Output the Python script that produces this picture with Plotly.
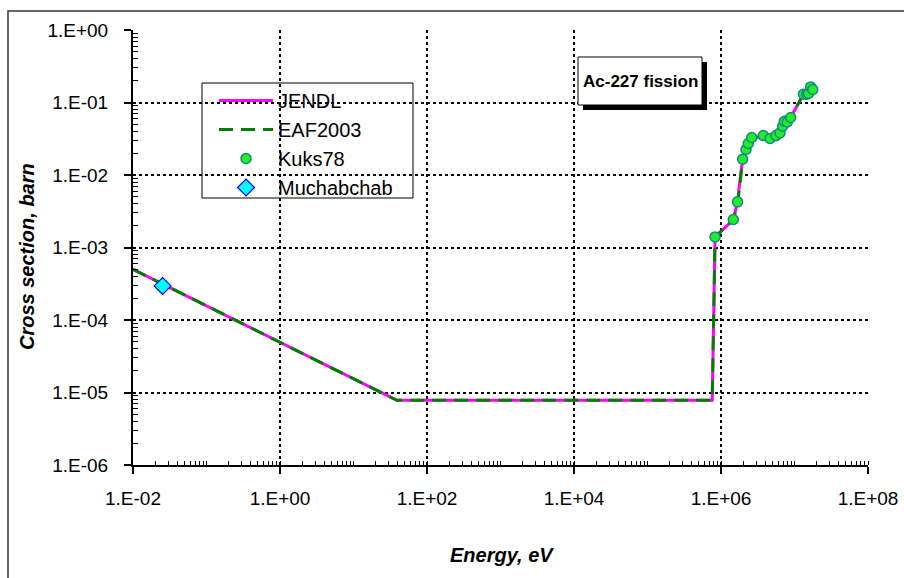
import plotly.graph_objects as go

# ---------------- data ----------------
jendl_E = [1e-2, 39, 7.6e5, 8.3e5, 1.47e6, 1.68e6, 1.85e6, 1.97e6, 2.19e6, 2.35e6, 2.62e6,
           3.77e6, 4.65e6, 5.6e6, 6.35e6, 6.9e6, 7.26e6, 7.98e6, 8.87e6, 1.32e7, 1.55e7, 2e7]
jendl_s = [5.0e-4, 7.8e-6, 7.8e-6, 1.4e-3, 2.4e-3, 4.3e-3, 1.0e-2, 1.6e-2, 2.2e-2, 2.7e-2, 3.2e-2,
           3.45e-2, 3.2e-2, 3.5e-2, 3.8e-2, 4.6e-2, 5.4e-2, 5.5e-2, 6.2e-2, 1.3e-1, 1.35e-1, 1.4e-1]

eaf_E = [1e-2, 39, 7.6e5, 8.3e5, 1.47e6, 1.68e6, 1.97e6, 2.19e6, 2.35e6, 2.62e6,
         3.77e6, 4.65e6, 5.6e6, 6.35e6, 6.9e6, 7.26e6, 7.98e6, 8.87e6, 1.32e7, 1.55e7, 2e7]
eaf_s = [5.0e-4, 7.8e-6, 7.8e-6, 1.4e-3, 2.4e-3, 4.0e-3, 1.6e-2, 2.2e-2, 2.7e-2, 3.2e-2,
         3.45e-2, 3.2e-2, 3.5e-2, 3.8e-2, 4.6e-2, 5.4e-2, 5.5e-2, 6.2e-2, 1.3e-1, 1.35e-1, 1.4e-1]

kuks_E = [8.3e5, 1.47e6, 1.68e6, 1.97e6, 2.19e6, 2.35e6, 2.62e6, 3.77e6, 4.65e6, 5.6e6,
          6.35e6, 6.9e6, 7.26e6, 7.98e6, 8.87e6, 1.32e7, 1.47e7, 1.55e7, 1.66e7, 1.77e7]
kuks_s = [1.4e-3, 2.43e-3, 4.26e-3, 1.65e-2, 2.25e-2, 2.72e-2, 3.29e-2, 3.5e-2, 3.19e-2, 3.5e-2,
          3.81e-2, 4.71e-2, 5.52e-2, 5.4e-2, 6.21e-2, 1.3e-1, 1.3e-1, 1.33e-1, 1.64e-1, 1.51e-1]

much_E = [0.0253]
much_s = [2.95e-4]

x_tickvals = [1e-2, 1e0, 1e2, 1e4, 1e6, 1e8]
x_ticktext = ["1.E-02", "1.E+00", "1.E+02", "1.E+04", "1.E+06", "1.E+08"]
y_tickvals = [1e-6, 1e-5, 1e-4, 1e-3, 1e-2, 1e-1, 1e0]
y_ticktext = ["1.E-06", "1.E-05", "1.E-04", "1.E-03", "1.E-02", "1.E-01", "1.E+00"]

x_minor = [m * 10 ** d for d in range(-2, 8) for m in range(2, 11)]
y_minor = [m * 10 ** d for d in range(-6, 0) for m in range(2, 10)]

# ---------------- layout geometry ----------------
W, H = 904, 578
L, R, T, B = 133, 868, 30, 465
FONT = "Liberation Sans, Arial, sans-serif"


def px(x):
    return (x - L) / (R - L)


def py(y):
    return (B - y) / (B - T)


fig = go.Figure()
fig.add_trace(go.Scatter(x=jendl_E, y=jendl_s, mode="lines", name="JENDL",
                         line=dict(color="#ff00ff", width=3), legendgroup="a"))
fig.add_trace(go.Scatter(x=eaf_E, y=eaf_s, mode="lines", name="EAF2003",
                         line=dict(color="#008000", width=3, dash="14px,8px"), legendgroup="b"))
fig.add_trace(go.Scatter(x=kuks_E, y=kuks_s, mode="markers", name="Kuks78",
                         marker=dict(color="#22ee22", size=10, line=dict(color="#118888", width=1.5)),
                         legendgroup="c"))
fig.add_trace(go.Scatter(x=much_E, y=much_s, mode="markers", name="Muchabchab",
                         marker=dict(symbol="diamond", color="#00ffff", size=13,
                                     line=dict(color="#0000ff", width=1.2)),
                         legendgroup="d"))

axis_common = dict(
    type="log", showline=True, linecolor="black", linewidth=2,
    ticks="outside", ticklen=7, tickwidth=1.5, tickcolor="black",
    tickfont=dict(family=FONT, size=19, color="black"),
    showgrid=True, gridcolor="black", gridwidth=1.5, griddash="dot",
    zeroline=False, mirror=False, automargin=False,
)

fig.update_layout(
    width=W, height=H,
    margin=dict(l=L, r=W - R, t=T, b=H - B, autoexpand=False),
    paper_bgcolor="white", plot_bgcolor="white",
    font=dict(family=FONT, size=18, color="black"),
    xaxis=dict(axis_common, range=[-2, 8], tickmode="array", tickvals=x_tickvals,
               ticktext=x_ticktext, ticklabelstandoff=8,
               minor=dict(tickmode="array", tickvals=x_minor, ticks="inside", ticklen=4,
                          tickwidth=1, tickcolor="black", showgrid=False)),
    yaxis=dict(axis_common, range=[-6, 0], tickmode="array", tickvals=y_tickvals,
               ticktext=y_ticktext, ticklabelstandoff=12,
               minor=dict(tickmode="array", tickvals=y_minor, ticks="inside", ticklen=5,
                          tickwidth=1, tickcolor="black", showgrid=False)),
    legend=dict(x=px(214), y=py(81), xanchor="left", yanchor="top",
                bgcolor="rgba(0,0,0,0)", borderwidth=0,
                font=dict(family=FONT, size=20, color="black"),
                traceorder="grouped", tracegroupgap=0, itemwidth=54),
    showlegend=True,
)

shapes = [
    # outer frame
    dict(type="rect", xref="paper", yref="paper", x0=px(8), y0=py(11), x1=px(1000), y1=py(1000),
         line=dict(color="#333333", width=1.5), fillcolor="rgba(0,0,0,0)", layer="above"),
    # legend box
    dict(type="rect", xref="paper", yref="paper", x0=px(202), y0=py(83), x1=px(413), y1=py(198),
         line=dict(color="black", width=1), fillcolor="white", layer="below"),
    # title box shadow
    dict(type="rect", xref="paper", yref="paper", x0=px(583), y0=py(62), x1=px(707), y1=py(110),
         line=dict(width=0), fillcolor="black", layer="above"),
    # title box
    dict(type="rect", xref="paper", yref="paper", x0=px(578), y0=py(57), x1=px(702), y1=py(105),
         line=dict(color="black", width=1), fillcolor="white", layer="above"),
]
fig.update_layout(shapes=shapes)

fig.add_annotation(xref="paper", yref="paper", x=px(640), y=py(81), text="<b>Ac-227 fission</b>",
                   showarrow=False, font=dict(family=FONT, size=17, color="black"),
                   xanchor="center", yanchor="middle")
fig.add_annotation(xref="paper", yref="paper", x=px(502), y=py(555), text="<b><i>Energy, eV</i></b>",
                   showarrow=False, font=dict(family=FONT, size=20, color="black"),
                   xanchor="center", yanchor="middle")
fig.add_annotation(xref="paper", yref="paper", x=px(27), y=py(257), text="<b><i>Cross section, barn</i></b>",
                   showarrow=False, textangle=-90, font=dict(family=FONT, size=20, color="black"),
                   xanchor="center", yanchor="middle")

fig.write_html("out.html")
